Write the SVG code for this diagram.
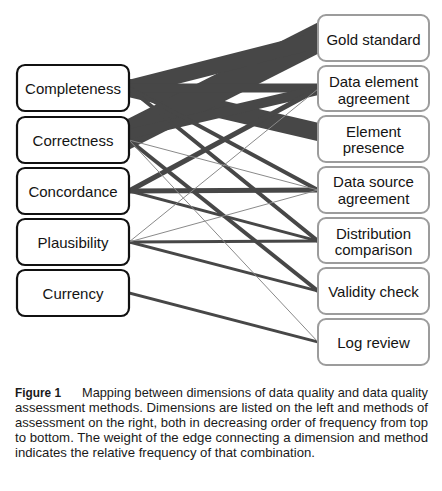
<svg xmlns="http://www.w3.org/2000/svg" width="442" height="491" viewBox="0 0 442 491">
<style>
.bg{fill:#ffffff}
.e{stroke:#474747;fill:none;stroke-linecap:square}
.t{stroke:#8a8a8a;fill:none;stroke-width:1}
.dim{fill:#ffffff;stroke:#111111;stroke-width:2.2}
.met{fill:#ffffff;stroke:#9c9c9c;stroke-width:2}
.lbl{font-family:"Liberation Sans",Arial,sans-serif;font-size:15px;fill:#141414;text-anchor:middle}
.cap{font-family:"Liberation Sans",Arial,sans-serif;font-size:13.2px;fill:#1a1a1a}
</style>
<rect class="bg" x="0" y="0" width="442" height="491"/>
<g id="connectors">
  <line class="e" x1="129" y1="88" x2="318" y2="132" stroke-width="18"/>
  <line class="e" x1="129" y1="134" x2="318" y2="38" stroke-width="28"/>
  <line class="e" x1="129" y1="88" x2="318" y2="40" stroke-width="16"/>
  <line class="e" x1="129" y1="88" x2="318" y2="88" stroke-width="9"/>
  <line class="e" x1="129" y1="134" x2="318" y2="90" stroke-width="10"/>
  <line class="e" x1="129" y1="191" x2="318" y2="89" stroke-width="5"/>
  <line class="e" x1="129" y1="191" x2="318" y2="190" stroke-width="5"/>
  <line class="e" x1="129" y1="88" x2="318" y2="190" stroke-width="4"/>
  <line class="e" x1="129" y1="88" x2="318" y2="241" stroke-width="4"/>
  <line class="e" x1="129" y1="140" x2="318" y2="291" stroke-width="4"/>
  <line class="e" x1="129" y1="191" x2="318" y2="241" stroke-width="3"/>
  <line class="e" x1="129" y1="242" x2="318" y2="241" stroke-width="3"/>
  <line class="e" x1="129" y1="242" x2="318" y2="291" stroke-width="3"/>
  <line class="e" x1="129" y1="293" x2="318" y2="342" stroke-width="3"/>
  <line class="t" x1="129" y1="140" x2="318" y2="190"/>
  <line class="t" x1="129" y1="140" x2="318" y2="342"/>
  <line class="t" x1="129" y1="242" x2="318" y2="89"/>
  <line class="t" x1="129" y1="242" x2="318" y2="190"/>
</g>
<g id="dim-completeness"><rect class="dim" x="17" y="65" width="112" height="46" rx="8"/><text class="lbl" x="73" y="94">Completeness</text></g>
<g id="dim-correctness"><rect class="dim" x="17" y="117" width="112" height="46" rx="8"/><text class="lbl" x="73" y="145.5">Correctness</text></g>
<g id="dim-concordance"><rect class="dim" x="17" y="168" width="112" height="46" rx="8"/><text class="lbl" x="73" y="197">Concordance</text></g>
<g id="dim-plausibility"><rect class="dim" x="17" y="219" width="112" height="46" rx="8"/><text class="lbl" x="73" y="248">Plausibility</text></g>
<g id="dim-currency"><rect class="dim" x="17" y="270" width="112" height="46" rx="8"/><text class="lbl" x="73" y="299">Currency</text></g>
<g id="met-gold"><rect class="met" x="318" y="15" width="111" height="46" rx="8"/><text class="lbl" x="373.5" y="45">Gold standard</text></g>
<g id="met-dea"><rect class="met" x="318" y="66" width="111" height="45" rx="8"/><text class="lbl" x="373.5" y="86.5">Data element</text><text class="lbl" x="373.5" y="104">agreement</text></g>
<g id="met-presence"><rect class="met" x="318" y="116" width="111" height="46" rx="8"/><text class="lbl" x="373.5" y="137">Element</text><text class="lbl" x="373.5" y="153">presence</text></g>
<g id="met-dsa"><rect class="met" x="318" y="167" width="111" height="46" rx="8"/><text class="lbl" x="373.5" y="187">Data source</text><text class="lbl" x="373.5" y="203.5">agreement</text></g>
<g id="met-distribution"><rect class="met" x="318" y="218" width="111" height="45" rx="8"/><text class="lbl" x="373.5" y="239">Distribution</text><text class="lbl" x="373.5" y="255">comparison</text></g>
<g id="met-validity"><rect class="met" x="318" y="268" width="111" height="46" rx="8"/><text class="lbl" x="373.5" y="297">Validity check</text></g>
<g id="met-log"><rect class="met" x="318" y="319" width="111" height="46" rx="8"/><text class="lbl" x="373.5" y="348">Log review</text></g>
<g id="caption">
  <text class="cap" x="15" y="396.5" font-weight="bold" textLength="46" lengthAdjust="spacingAndGlyphs">Figure 1</text>
  <text class="cap" x="82" y="396.5" textLength="346" lengthAdjust="spacingAndGlyphs">Mapping between dimensions of data quality and data quality</text>
  <text class="cap" x="15" y="411.5" textLength="413" lengthAdjust="spacingAndGlyphs">assessment methods. Dimensions are listed on the left and methods of</text>
  <text class="cap" x="15" y="426.5" textLength="413" lengthAdjust="spacingAndGlyphs">assessment on the right, both in decreasing order of frequency from top</text>
  <text class="cap" x="15" y="441.5" textLength="413" lengthAdjust="spacingAndGlyphs">to bottom. The weight of the edge connecting a dimension and method</text>
  <text class="cap" x="15" y="456.5" textLength="300" lengthAdjust="spacingAndGlyphs">indicates the relative frequency of that combination.</text>
</g>
</svg>
